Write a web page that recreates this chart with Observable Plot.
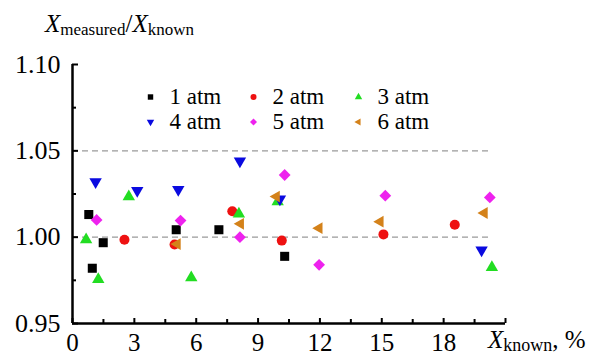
<!DOCTYPE html>
<html>
<head>
<meta charset="utf-8">
<script src="https://cdn.jsdelivr.net/npm/d3@7"></script>
<script src="https://cdn.jsdelivr.net/npm/@observablehq/plot@0.6"></script>
<style>
  html, body { margin: 0; padding: 0; background: white; }
  svg { display: block; }
  svg text, svg tspan { font-family: 'Liberation Serif', 'Times New Roman', serif !important; }
</style>
</head>
<body>
<div id="chart"></div>
<script>
// ---- data ----
const seriesNames = ["1 atm", "2 atm", "3 atm", "4 atm", "5 atm", "6 atm"];
const seriesColors = ["#000000", "#ee1111", "#22dd22", "#0a0ae0", "#ee22ee", "#d4821a"];

const x1atm = [0.79, 0.96, 1.49, 5.03, 7.10, 10.29];
const y1atm = [1.0131, 0.9820, 0.9968, 1.0043, 1.0043, 0.9889];

const x2atm = [2.52, 4.95, 7.75, 10.15, 15.08, 18.54];
const y2atm = [0.9985, 0.9958, 1.0150, 0.9980, 1.0016, 1.0072];

const x3atm = [0.66, 1.25, 2.73, 5.76, 8.07, 9.95, 20.34];
const y3atm = [0.9985, 0.9755, 1.0235, 0.9765, 1.0135, 1.0205, 0.9825];

const x4atm = [1.12, 3.14, 5.13, 8.12, 10.06, 19.84];
const y4atm = [1.0320, 1.0270, 1.0275, 1.0440, 1.0220, 0.9925];

const x5atm = [1.17, 5.24, 8.12, 10.29, 11.96, 15.17, 20.24];
const y5atm = [1.0100, 1.0096, 1.0000, 1.0360, 0.9840, 1.0240, 1.0230];

const x6atm = [5.08, 8.15, 9.89, 11.96, 14.92, 19.97];
const y6atm = [0.9960, 1.0077, 1.0235, 1.0052, 1.0090, 1.0140];

const xDomain = [0, 21];
const yDomain = [0.95, 1.10];
const xMajorTicks = [0, 3, 6, 9, 12, 15, 18, 21];
const xMinorTicks = [1.5, 4.5, 7.5, 10.5, 13.5, 16.5, 19.5];
const xTickLabels = [0, 3, 6, 9, 12, 15, 18];
const yMajorTicks = [0.95, 1.00, 1.05, 1.10];
const yMinorTicks = [0.975, 1.025, 1.075];
const refLinesY = [1.00, 1.05];
const refLineX = [0, 20.3];

// ---- symbols ----
const S3 = Math.sqrt(3);
const triDown = {draw(ctx, size) {
  const y = Math.sqrt(size / (S3 * 3));
  ctx.moveTo(0, 2 * y); ctx.lineTo(-S3 * y, -y); ctx.lineTo(S3 * y, -y); ctx.closePath();
}};
const triLeft = {draw(ctx, size) {
  const y = Math.sqrt(size / (S3 * 3));
  ctx.moveTo(-2 * y, 0); ctx.lineTo(y, -S3 * y); ctx.lineTo(y, S3 * y); ctx.closePath();
}};
const seriesSymbols = ["square", "circle", "triangle", triDown, "diamond2", triLeft];
const seriesR = [5.1, 5.0, 4.6, 4.6, 5.3, 4.4];

const xs = [x1atm, x2atm, x3atm, x4atm, x5atm, x6atm];
const ys = [y1atm, y2atm, y3atm, y4atm, y5atm, y6atm];
const series = xs.map((xa, i) => xa.map((x, j) => ({x, y: ys[i][j]})));

// ---- layout ----
const W = 589, H = 356;
const mL = 72, mR = 84, mT = 64, mB = 33;
const plotW = W - mL - mR, plotH = H - mT - mB;
const font = "'Liberation Serif', 'Times New Roman', serif";

// legend layout (pixel offsets from top-left of frame)
const legCols = [78, 181, 286];
const legRows = [32.5, 57.5];
const legendMarks = [];
seriesNames.forEach((name, i) => {
  const dx = legCols[i % 3], dy = legRows[Math.floor(i / 3)];
  legendMarks.push(Plot.dot([name], {x: null, y: null, frameAnchor: "top-left", dx, dy,
    symbol: seriesSymbols[i], fill: seriesColors[i], r: seriesR[i] * 0.6}));
  legendMarks.push(Plot.text([name], {x: null, y: null, frameAnchor: "top-left", dx: dx + 19, dy,
    text: d => d, textAnchor: "start", lineAnchor: "middle", fontSize: 23, fontFamily: font, fill: "black"}));
});

const plot = Plot.plot({
  width: W, height: H,
  marginLeft: mL, marginRight: mR, marginTop: mT, marginBottom: mB,
  x: {domain: xDomain},
  y: {domain: yDomain},
  style: {fontFamily: font, background: "white", color: "black"},
  marks: [
    Plot.ruleY(refLinesY, {x1: refLineX[0], x2: refLineX[1], stroke: "#9a9a9a", strokeDasharray: "6,4", strokeWidth: 1.3}),
    Plot.axisX({ticks: xTickLabels, tickSize: 0, tickPadding: 10, fontSize: 25, fontFamily: font, label: null}),
    Plot.axisY({ticks: yMajorTicks, tickSize: 0, tickPadding: 12, fontSize: 26, fontFamily: font, tickFormat: d3.format(".2f"), label: null}),
    Plot.tickX(xMajorTicks, {x: d => d, insetTop: plotH - 5, strokeWidth: 2}),
    Plot.tickX(xMinorTicks, {x: d => d, insetTop: plotH - 4, strokeWidth: 2}),
    Plot.tickY(yMajorTicks, {y: d => d, insetRight: plotW - 6, strokeWidth: 2}),
    Plot.tickY(yMinorTicks, {y: d => d, insetRight: plotW - 4, strokeWidth: 2}),
    Plot.ruleX([xDomain[0]], {strokeWidth: 2.5}),
    Plot.ruleY([yDomain[0]], {strokeWidth: 2.5}),
    ...series.map((data, i) => Plot.dot(data, {x: "x", y: "y", symbol: () => seriesSymbols[i],
      fill: seriesColors[i], r: seriesR[i]})),
    ...legendMarks
  ]
});
document.getElementById("chart").appendChild(plot);

// ---- axis titles with subscripts ----
const svg = d3.select(plot);
const yt = svg.append("text").attr("x", 45).attr("y", 32).attr("font-size", 25)
  .attr("font-family", font).attr("fill", "black").attr("text-anchor", "start");
yt.append("tspan").attr("font-style", "italic").text("X");
yt.append("tspan").attr("font-size", 17).attr("dy", 3).text("measured");
yt.append("tspan").attr("dy", -3).text("/");
yt.append("tspan").attr("font-style", "italic").text("X");
yt.append("tspan").attr("font-size", 17).attr("dy", 3).text("known");

const xt = svg.append("text").attr("x", 488).attr("y", 348).attr("font-size", 25)
  .attr("font-family", font).attr("fill", "black").attr("text-anchor", "start");
xt.append("tspan").attr("font-style", "italic").text("X");
xt.append("tspan").attr("font-size", 18).attr("dy", 3).text("known");
xt.append("tspan").attr("dy", -3).text(", %");
</script>
</body>
</html>
